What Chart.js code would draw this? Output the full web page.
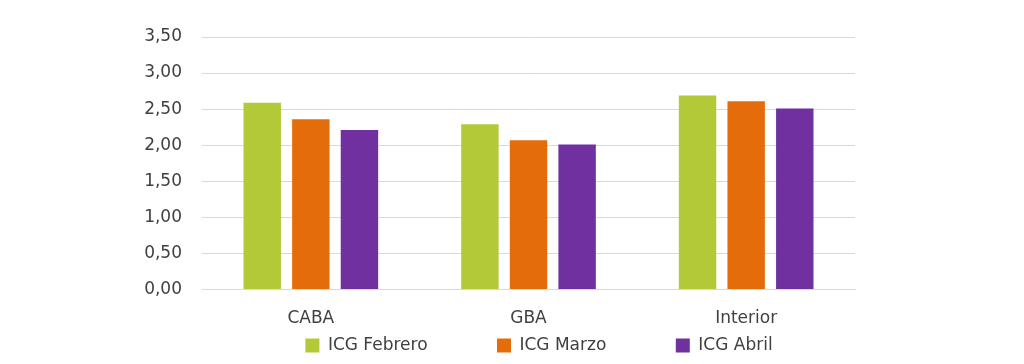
<!DOCTYPE html>
<html>
<head>
<meta charset="utf-8">
<script src="https://cdn.jsdelivr.net/npm/chart.js@4/dist/chart.umd.min.js"></script>
<style>
  html, body { margin: 0; padding: 0; background: #fff; }
  #wrap { width: 1024px; height: 364px; }
</style>
</head>
<body>
<div id="wrap"><canvas id="chart"></canvas></div>
<script>
// data
const regions = ['CABA', 'GBA', 'Interior'];
const febrero = [2.59, 2.29, 2.69];
const marzo = [2.36, 2.07, 2.61];
const abril = [2.21, 2.01, 2.51];
const seriesNames = ['ICG Febrero', 'ICG Marzo', 'ICG Abril'];
const seriesColors = ['#b3c937', '#e46c0a', '#7030a0'];

const font = { family: 'DejaVu Sans', size: 17 };
const textColor = '#404040';
const legendGap = '\u00a0'.repeat(11); // wide gaps between legend items

const ctx = document.getElementById('chart').getContext('2d');
new Chart(ctx, {
  type: 'bar',
  data: {
    labels: regions,
    datasets: [febrero, marzo, abril].map((vals, i) => ({
      label: seriesNames[i],
      data: vals,
      backgroundColor: seriesColors[i],
      borderWidth: 0,
      categoryPercentage: 0.67,
      barPercentage: 0.77,
    })),
  },
  options: {
    responsive: true,
    maintainAspectRatio: false,
    animation: false,
    layout: { padding: { left: 54, right: 0, top: 37, bottom: 0 } },
    plugins: {
      legend: {
        position: 'bottom',
        labels: {
          font: font,
          color: textColor,
          boxWidth: 14,
          boxHeight: 14,
          padding: 10,
          generateLabels: chart => {
            const items = Chart.defaults.plugins.legend.labels.generateLabels(chart);
            items.forEach((it, i) => {
              if (i < items.length - 1) it.text += legendGap;
            });
            return items;
          },
        },
      },
      tooltip: { enabled: false },
    },
    scales: {
      x: {
        grid: { display: false, drawTicks: false },
        border: { display: true, color: '#d9d9d9' },
        ticks: { font: font, color: textColor, padding: 19 },
        afterFit: s => { s.height = 37.5; },
      },
      y: {
        min: 0,
        max: 3.5,
        ticks: {
          stepSize: 0.5,
          font: font,
          color: textColor,
          padding: 20,
          callback: v => v.toFixed(2).replace('.', ','),
        },
        grid: { color: '#d9d9d9', drawTicks: false },
        border: { display: false },
        afterFit: s => { s.width = 148; },
      },
      y2: {
        position: 'right',
        display: true,
        grid: { display: false },
        border: { display: false },
        ticks: { display: false },
        afterFit: s => { s.width = 169; },
      },
    },
  },
});
</script>
</body>
</html>
